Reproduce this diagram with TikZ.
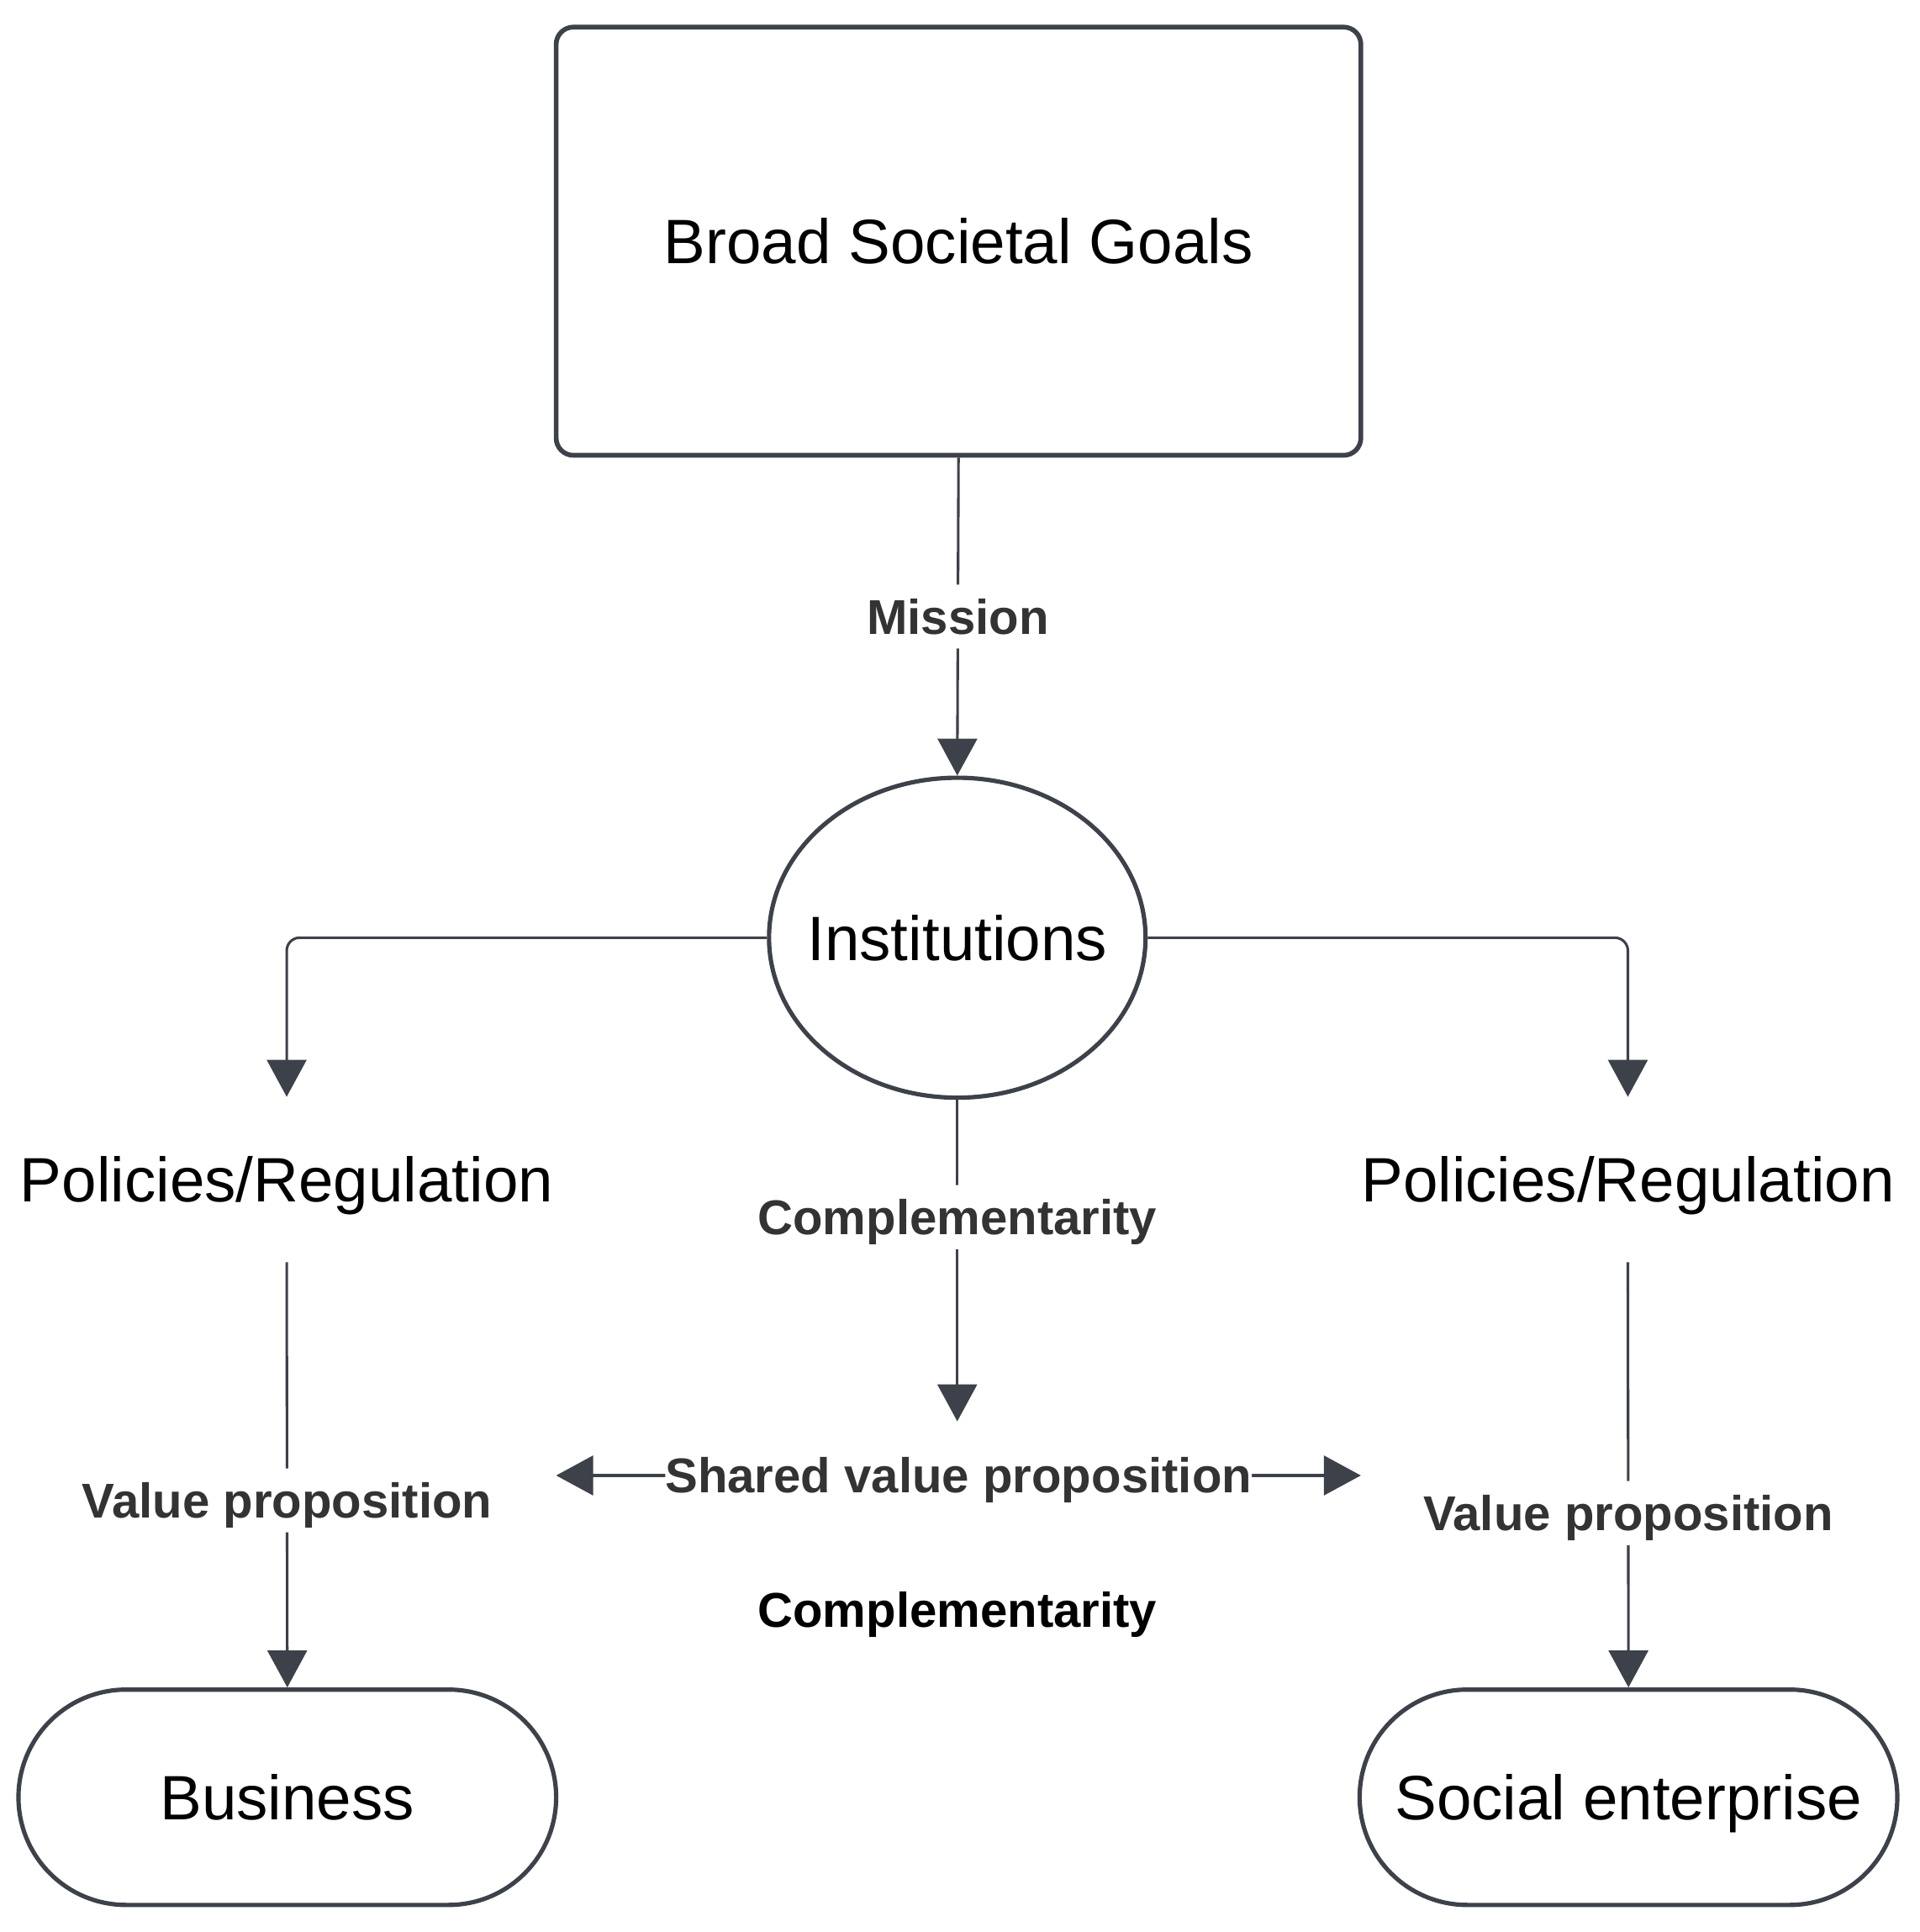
\documentclass[tikz,border=0pt]{standalone}
\usepackage{fontspec}
\setmainfont{Liberation Sans}
\usetikzlibrary{shapes.geometric,arrows.meta}
\definecolor{linegray}{HTML}{3D414A}
\definecolor{labelgray}{HTML}{333333}
\tikzset{%
	bigtext/.style={font=\fontsize{14.5}{17}\selectfont,text height=14.07pt,text depth=3.63pt},
	goalbox/.style={bigtext,draw=linegray,line width=1.1pt,rounded corners=4pt,minimum width=6.54cm,minimum height=3.48cm},
	instnode/.style={bigtext,ellipse,draw=linegray,line width=1pt,minimum width=3.06cm,minimum height=2.6cm,inner xsep=-0.15cm,inner ysep=0pt},
	policy/.style={bigtext,minimum height=1.33cm,inner sep=0pt},
	stadium/.style={bigtext,draw=linegray,line width=1pt,rounded corners=0.875cm,minimum width=4.37cm,minimum height=1.75cm},
	flow/.style={draw=linegray,line width=0.6pt,-{Triangle[length=0.3cm,width=0.32cm]},rounded corners=3pt},
	lbl/.style={fill=white,font=\bfseries\fontsize{11.3}{13}\selectfont,text=labelgray,inner xsep=2pt,inner ysep=0.5pt,text height=10.96pt,text depth=2.83pt},
}
\begin{document}
\begin{tikzpicture}
	\useasboundingbox (0,0) rectangle (15.6,-15.7);
	
	%NODES
	\node[goalbox] (goals) at (7.79,-1.96) {Broad Societal Goals};
	\node[instnode] (inst) at (7.78,-7.62) {Institutions};
	\node[policy] (polL) at (2.33,-9.585) {Policies/Regulation}; %left
	\node[policy] (polR) at (13.23,-9.585) {Policies/Regulation}; %right
	\node[stadium] (bus) at (2.335,-14.605) {Business};
	\node[stadium] (soc) at (13.235,-14.605) {Social enterprise};
	
	%SHARED
	\coordinate (shtop) at (7.78,-11.55);
	\coordinate (shL) at (4.52,-11.99);
	\coordinate (shR) at (11.06,-11.99);
	\node[lbl,fill=none,text=black] (comp) at (7.78,-13.08) {Complementarity};
	
	%CONNECTORS
	\draw[flow] (goals.south) -- node[lbl] {Mission} (inst.north);
	\draw[flow] (inst.west) -| (polL.north);
	\draw[flow] (inst.east) -| (polR.north);
	\draw[flow] (polL.south) -- node[lbl,pos=0.56] {Value proposition} (bus.north);
	\draw[flow] (polR.south) -- node[lbl,pos=0.59] {Value proposition} (soc.north);
	\draw[flow] (inst.south) -- node[lbl,pos=0.365] {Complementarity} (shtop);
	\draw[flow,{Triangle[length=0.3cm,width=0.32cm]}-{Triangle[length=0.3cm,width=0.32cm]}] (shL) -- node[lbl,inner xsep=0pt] {Shared value proposition} (shR);
\end{tikzpicture}
\end{document}
